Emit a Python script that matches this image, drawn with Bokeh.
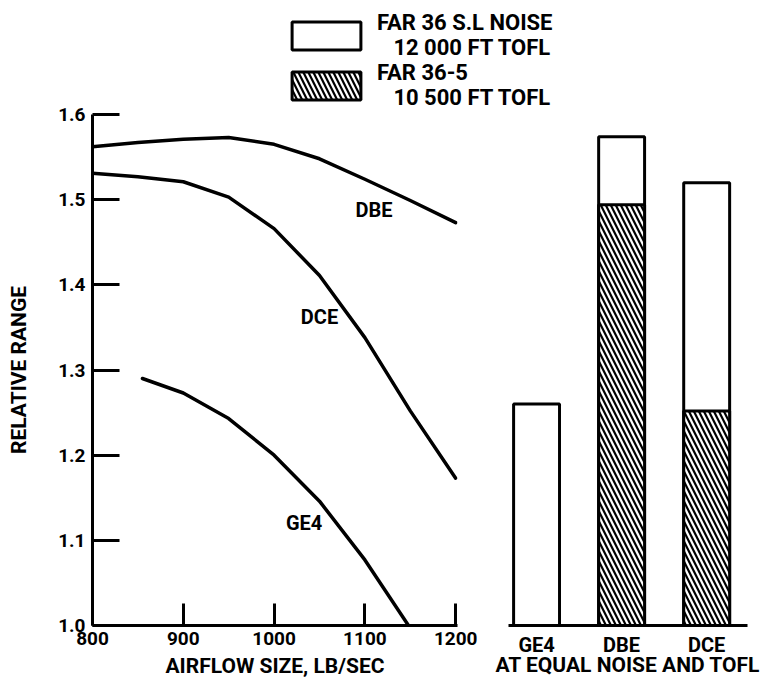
from bokeh.plotting import figure
from bokeh.layouts import column, row
from bokeh.models import Range1d, FixedTicker, Label, Legend, LegendItem, PrintfTickFormatter
from bokeh.embed import file_html
from bokeh.resources import INLINE

FONT = "Roboto"

# ---- left panel data: relative range vs airflow size ----
airflow_dbe = [800, 850, 900, 950, 1000, 1050, 1100, 1150, 1200]
range_dbe = [1.562, 1.567, 1.571, 1.573, 1.565, 1.548, 1.524, 1.499, 1.473]
airflow_dce = [800, 850, 900, 950, 1000, 1050, 1100, 1150, 1200]
range_dce = [1.531, 1.527, 1.521, 1.503, 1.466, 1.411, 1.338, 1.252, 1.173]
airflow_ge4 = [855, 900, 950, 1000, 1050, 1100, 1148]
range_ge4 = [1.290, 1.273, 1.243, 1.200, 1.146, 1.077, 1.000]

curve_names = ["DBE", "DCE", "GE4"]
curve_label_x = [1110, 1050, 1033]
curve_label_y = [1.488, 1.362, 1.120]

x_ticks = [800, 900, 1000, 1100, 1200]
y_ticks = [1.0, 1.1, 1.2, 1.3, 1.4, 1.5, 1.6]

# ---- right panel data: at equal noise and TOFL ----
engines = ["GE4", "DBE", "DCE"]
engine_slot = [1, 2, 3]
range_far36_noise = [1.260, 1.574, 1.520]
range_far36_5 = [float("nan"), 1.494, 1.252]

legend_labels = ["FAR 36 S.L NOISE\n\u00a0\u00a0\u00a012 000 FT TOFL",
                 "FAR 36-5\n\u00a0\u00a0\u00a010 500 FT TOFL"]

HATCH = dict(hatch_pattern="\\", hatch_color="black", hatch_weight=2.2, hatch_scale=10)


def style_axis(ax, size="19px"):
    ax.axis_line_width = 3
    ax.axis_line_color = "black"
    ax.major_tick_line_width = 3
    ax.major_tick_line_color = "black"
    ax.minor_tick_line_color = None
    ax.major_tick_out = 0
    ax.major_label_text_font = FONT
    ax.major_label_text_font_size = size
    ax.major_label_text_font_style = "bold"
    ax.major_label_text_color = "black"
    ax.axis_label_text_font = FONT
    ax.axis_label_text_font_size = "21px"
    ax.axis_label_text_font_style = "bold"
    ax.axis_label_text_color = "black"


y_range = Range1d(1.0, 1.6)

# ---------------- left figure ----------------
left = figure(width=480, height=585, x_range=Range1d(800, 1202), y_range=y_range,
              output_backend="svg", toolbar_location=None,
              min_border_left=92, min_border_right=23, min_border_top=14, min_border_bottom=60)
left.outline_line_color = None
left.grid.visible = False
left.background_fill_alpha = 0
left.border_fill_alpha = 0

for xs, ys in [(airflow_dbe, range_dbe), (airflow_dce, range_dce), (airflow_ge4, range_ge4)]:
    left.line(xs, ys, line_color="black", line_width=3.5, line_join="round", line_cap="round")

for name, lx, ly in zip(curve_names, curve_label_x, curve_label_y):
    left.add_layout(Label(x=lx, y=ly, text=name, text_font=FONT, text_font_size="20px",
                          text_font_style="bold", text_align="center", text_baseline="middle",
                          text_color="black"))

left.xaxis.ticker = FixedTicker(ticks=x_ticks)
left.yaxis.ticker = FixedTicker(ticks=y_ticks)
left.yaxis.formatter = PrintfTickFormatter(format="%.1f")
style_axis(left.xaxis[0])
style_axis(left.yaxis[0])
left.xaxis.major_tick_in = 22
left.yaxis.major_tick_in = 27
left.xaxis.major_label_standoff = 6
left.yaxis.major_label_standoff = 7
left.xaxis.axis_label = "AIRFLOW SIZE, LB/SEC"
left.yaxis.axis_label = "RELATIVE RANGE"
left.xaxis.axis_label_standoff = 6
left.yaxis.axis_label_standoff = 24

# ---------------- right figure ----------------
right = figure(width=283, height=585, x_range=Range1d(0.67, 3.48), y_range=y_range,
               output_backend="svg", toolbar_location=None,
               min_border_left=28, min_border_right=16, min_border_top=14, min_border_bottom=60)
right.outline_line_color = None
right.grid.visible = False
right.yaxis.visible = False
right.background_fill_alpha = 0
right.border_fill_alpha = 0

right.vbar(x=engine_slot, top=range_far36_noise, bottom=1.0, width=0.54,
           fill_color="white", line_color="black", line_width=3)
right.vbar(x=engine_slot, top=range_far36_5, bottom=1.0, width=0.54,
           fill_color="white", line_color="black", line_width=3, **HATCH)

right.xaxis.ticker = FixedTicker(ticks=engine_slot)
right.xaxis.major_label_overrides = {s: e for s, e in zip(engine_slot, engines)}
style_axis(right.xaxis[0], size="20px")
right.xaxis.major_tick_line_color = None
right.xaxis.major_tick_in = 0
right.xaxis.major_label_standoff = 7
right.xaxis.axis_label = "AT EQUAL NOISE AND TOFL"
right.xaxis.axis_label_standoff = -7

# ---------------- legend strip ----------------
leg = figure(width=763, height=120, x_range=Range1d(0, 1), y_range=Range1d(0, 1),
             output_backend="svg", toolbar_location=None, x_axis_type=None, y_axis_type=None,
             min_border=0)
leg.outline_line_color = None
leg.grid.visible = False
# legend proxies (not shown on the page)
r_noise = leg.quad(left=[0], right=[0], top=[0], bottom=[0], fill_color="white",
                   line_color="black", line_width=3, visible=False)
r_far = leg.quad(left=[0], right=[0], top=[0], bottom=[0], fill_color="white",
                 line_color="black", line_width=3, visible=False, **HATCH)
legend = Legend(items=[LegendItem(label=legend_labels[0], renderers=[r_noise]),
                       LegendItem(label=legend_labels[1], renderers=[r_far])],
                location=(283, 10), glyph_width=86, glyph_height=35, label_standoff=8,
                padding=0, margin=0, spacing=0, border_line_color=None,
                background_fill_alpha=0, label_text_font=FONT, label_text_font_size="22px",
                label_text_font_style="bold", label_text_color="black",
                label_text_line_height=1.2)
leg.add_layout(legend)

body = row(left, right, spacing=0)
body.margin = (-20, 0, 0, 0)
layout = column(leg, body, spacing=0)
open("out.html", "w").write(file_html(layout, INLINE))
